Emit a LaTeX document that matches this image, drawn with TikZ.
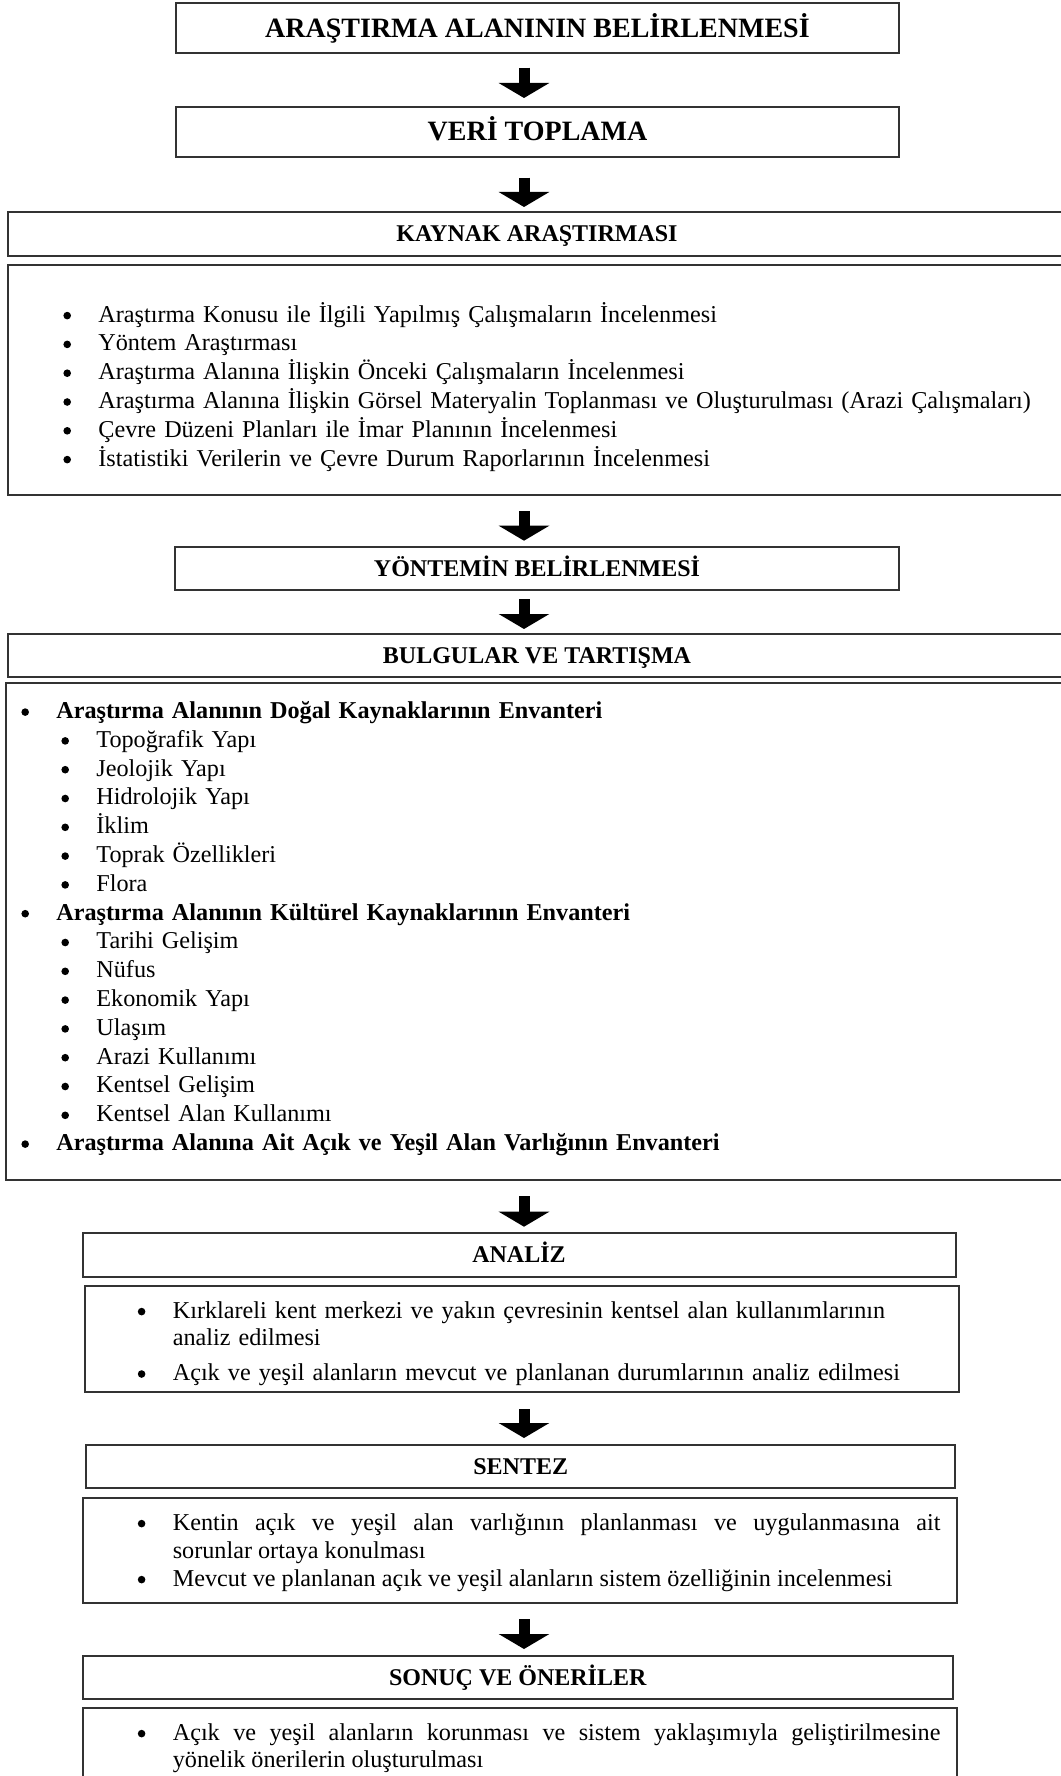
\documentclass[tikz,border=0pt]{standalone}
\usepackage{fontspec}
\setmainfont{Liberation Serif}
\usetikzlibrary{arrows.meta, calc}

\hyphenpenalty=10000
\exhyphenpenalty=10000
\tolerance=9999

\newlength{\bulletw}
\setlength{\bulletw}{17.5pt}
\newcommand{\dotmark}{\tikz[baseline=0pt]\fill (0,3.2pt) circle (1.9pt);}
\newcommand{\itm}[1]{\hangindent=\dimexpr#1+\bulletw\relax\hangafter=1\noindent\hspace*{#1}\makebox[\bulletw][l]{\dotmark}}

\tikzset{
	box/.style={shape=rectangle, draw=black!80, line width=1pt, inner sep=0pt},
	head/.style={anchor=base, inner sep=0pt, font=\fontsize{12}{14}\selectfont\bfseries},
	bighead/.style={anchor=base, inner sep=0pt, font=\fontsize{14}{16}\selectfont\bfseries},
	list/.style={anchor=base west, inner sep=0pt, align=left, font=\fontsize{12.1}{14.4}\selectfont},
	down/.style={line width=5.5pt, -{Triangle[width=25pt, length=7.5pt]}}
}

\begin{document}
\begin{tikzpicture}[x=0.5pt, y=-0.5pt]
	% Boxes, texts and arrows:
	\useasboundingbox (0,0) rectangle (1060,1776);
	\coordinate (ax) at (524,0);
	\node[box, minimum width=361.5pt, minimum height=25pt] (b1) at (537.5,28.3){};
	\node[bighead] (t1) at ($(b1.center)+(0,9)$){ARAŞTIRMA ALANININ BELİRLENMESİ};
	\node[box, minimum width=361.5pt, minimum height=25pt] (b2) at (537.5,131.7){};
	\node[bighead] (t2) at ($(b2.center)+(0,9)$){VERİ TOPLAMA};
	\node[box, minimum width=529pt, minimum height=21.85pt] (b3) at (537,233.85){};
	\node[head] (t3) at ($(b3.center)+(0,8)$){KAYNAK ARAŞTIRMASI};
	\node[box, minimum width=529pt, minimum height=115pt] (b4) at (537,380){};
	\node[list, text width=500pt] (t4) at (63,322){\itm{0pt}Araştırma Konusu ile İlgili Yapılmış Çalışmaların İncelenmesi\par
		\itm{0pt}Yöntem Araştırması\par
		\itm{0pt}Araştırma Alanına İlişkin Önceki Çalışmaların İncelenmesi\par
		\itm{0pt}Araştırma Alanına İlişkin Görsel Materyalin Toplanması ve Oluşturulması (Arazi Çalışmaları)\par
		\itm{0pt}Çevre Düzeni Planları ile İmar Planının İncelenmesi\par
		\itm{0pt}İstatistiki Verilerin ve Çevre Durum Raporlarının İncelenmesi\par};
	\node[box, minimum width=362pt, minimum height=21.65pt] (b5) at (537,568.35){};
	\node[head] (t5) at ($(b5.center)+(0,8)$){YÖNTEMİN BELİRLENMESİ};
	\node[box, minimum width=529pt, minimum height=21.2pt] (b6) at (537,655.5){};
	\node[head] (t6) at ($(b6.center)+(0,8)$){BULGULAR VE TARTIŞMA};
	\node[box, minimum width=530pt, minimum height=248.5pt] (b7) at (536,931.5){};
	\node[list, text width=500pt] (t7) at (21,718.5){\itm{0pt}\textbf{Araştırma Alanının Doğal Kaynaklarının Envanteri}\par
		\itm{20pt}Topoğrafik Yapı\par
		\itm{20pt}Jeolojik Yapı\par
		\itm{20pt}Hidrolojik Yapı\par
		\itm{20pt}İklim\par
		\itm{20pt}Toprak Özellikleri\par
		\itm{20pt}Flora\par
		\itm{0pt}\textbf{Araştırma Alanının Kültürel Kaynaklarının Envanteri}\par
		\itm{20pt}Tarihi Gelişim\par
		\itm{20pt}Nüfus\par
		\itm{20pt}Ekonomik Yapı\par
		\itm{20pt}Ulaşım\par
		\itm{20pt}Arazi Kullanımı\par
		\itm{20pt}Kentsel Gelişim\par
		\itm{20pt}Kentsel Alan Kullanımı\par
		\itm{0pt}\textbf{Araştırma Alanına Ait Açık ve Yeşil Alan Varlığının Envanteri}\par};
	\node[box, minimum width=436.5pt, minimum height=21.85pt] (b8) at (519,1254.85){};
	\node[head] (t8) at ($(b8.center)+(0,8)$){ANALİZ};
	\node[box, minimum width=437.1pt, minimum height=52.85pt] (b9) at (521.6,1338.85){};
	\node[list, text width=401.3pt, font=\fontsize{12.1}{13.7}\selectfont] (t9) at (137.4,1318){\setlength{\parskip}{3.8pt}\itm{0pt}Kırklareli kent merkezi ve yakın çevresinin kentsel alan kullanımlarının analiz edilmesi\par
		\itm{0pt}Açık ve yeşil alanların mevcut ve planlanan durumlarının analiz edilmesi\par};
	\node[box, minimum width=434.7pt, minimum height=21.5pt] (b10) at (520.7,1466.5){};
	\node[head] (t10) at ($(b10.center)+(0,8)$){SENTEZ};
	\node[box, minimum width=437.1pt, minimum height=52.5pt] (b11) at (519.6,1550.5){};
	\node[list, align=justify, text width=401.3pt, font=\fontsize{12.1}{14}\selectfont] (t11) at (137.4,1530){\itm{0pt}Kentin açık ve yeşil alan varlığının planlanması ve uygulanmasına ait\linebreak sorunlar ortaya konulması\par
		\itm{0pt}Mevcut ve planlanan açık ve yeşil alanların sistem özelliğinin incelenmesi\par};
	\node[box, minimum width=435.25pt, minimum height=21.65pt] (b12) at (517.75,1677.65){};
	\node[head] (t12) at ($(b12.center)+(0,8)$){SONUÇ VE ÖNERİLER};
	\node[box, minimum width=437.1pt, minimum height=46pt] (b13) at (519.6,1754){};
	\node[list, align=justify, text width=401.3pt, font=\fontsize{12.1}{13.6}\selectfont] (t13) at (137.4,1740){\itm{0pt}Açık ve yeşil alanların korunması ve sistem yaklaşımıyla geliştirilmesine\linebreak yönelik önerilerin oluşturulması\par};
	\draw[down] ($(ax |- b1.south)+(0,13.4)$) -- ($(ax |- b2.north)+(0,-7.7)$);
	\draw[down] ($(ax |- b2.south)+(0,20)$) -- ($(ax |- b3.north)+(0,-4)$);
	\draw[down] ($(ax |- b4.south)+(0,15)$) -- ($(ax |- b5.north)+(0,-5)$);
	\draw[down] ($(ax |- b5.south)+(0,8)$) -- ($(ax |- b6.north)+(0,-4.3)$);
	\draw[down] ($(ax |- b7.south)+(0,15)$) -- ($(ax |- b8.north)+(0,-5.3)$);
	\draw[down] ($(ax |- b9.south)+(0,16.3)$) -- ($(ax |- b10.north)+(0,-6)$);
	\draw[down] ($(ax |- b11.south)+(0,15)$) -- ($(ax |- b12.north)+(0,-6)$);
\end{tikzpicture}
\end{document}
